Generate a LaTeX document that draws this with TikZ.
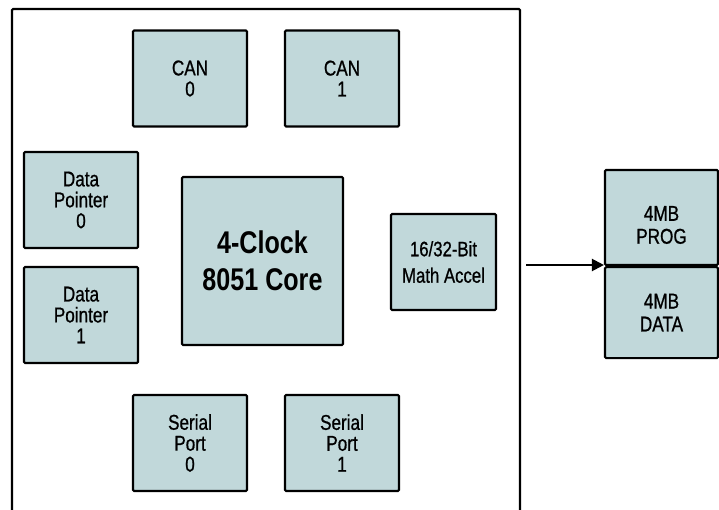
\documentclass[tikz,border=0pt]{standalone}
\usepackage{fontspec}
\setmainfont{Liberation Sans}[FakeStretch=0.8, UprightFeatures={FakeBold=0.8}]
\usetikzlibrary{arrows.meta}
\definecolor{boxfill}{RGB}{193,216,218}
\tikzset{
  blk/.style={draw=black, fill=boxfill, line width=2.1bp, rounded corners=1.2bp,
    inner sep=0pt, align=center, font=\fontsize{21.5}{21}\selectfont},
  small/.style={blk, minimum width=114bp, minimum height=96bp},
  wire/.style={line width=2.1bp, line cap=round}
}
\begin{document}
\begin{tikzpicture}[x=1bp, y=-1bp]
\useasboundingbox (0,0) rectangle (719,510);
% outer chip outline (open at the bottom)
\draw[wire, rounded corners=1.2bp] (12,515) -- (12,9) -- (520,9) -- (520,515);

\node[small] (can0) at (190,78.5) {CAN\\0};
\node[small] (can1) at (342,78.5) {CAN\\1};
\node[small] (dp0) at (81,200) {Data\\Pointer\\0};
\node[small] (dp1) at (81,315) {Data\\Pointer\\1};
\node[blk, minimum width=161bp, minimum height=168bp, font=\bfseries\fontsize{31.5}{37}\selectfont] (core) at (262.5,261) {4-Clock\\8051 Core};
\node[blk, minimum width=105bp, minimum height=96bp, font=\fontsize{21}{26.5}\selectfont] (math) at (443.5,262) {16/32-Bit\\Math Accel};
\node[small] (sp0) at (190,443) {Serial\\Port\\0};
\node[small] (sp1) at (342,443) {Serial\\Port\\1};

\node[blk, minimum width=113bp, minimum height=95bp] (prog) at (661.5,217.5) {};
\node[inner sep=0pt, align=center, font=\fontsize{21.5}{23}\selectfont] (progtxt) at (661.5,225) {4MB\\PROG};
\node[blk, minimum width=113bp, minimum height=91bp, anchor=north, font=\fontsize{21.5}{23}\selectfont] (data) at (prog.south) {4MB\\DATA};

\coordinate (busout) at (526,265);
\draw[wire, line cap=butt, -{Triangle[length=12bp,width=12bp]}] (busout) -- (busout -| prog.west);
\end{tikzpicture}
\end{document}
